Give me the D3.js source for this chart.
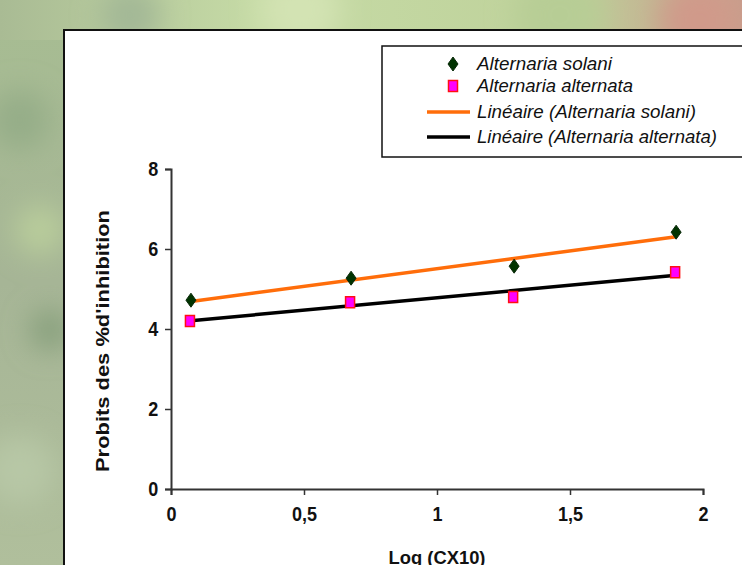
<!DOCTYPE html>
<html>
<head>
<meta charset="utf-8">
<script src="https://cdn.jsdelivr.net/npm/d3@7"></script>
<style>
  body { margin: 0; padding: 0; overflow: hidden; }
  svg { display: block; font-family: "Liberation Sans", Arial, sans-serif; }
</style>
</head>
<body>
<div id="chart"></div>
<script>
// donnees
var logDose = [0.075, 0.677, 1.29, 1.899];
var solani = [4.72, 5.27, 5.57, 6.42];
var alternata = [4.2, 4.67, 4.8, 5.42];
var xTicks = [0, 0.5, 1, 1.5, 2];
var yTicks = [0, 2, 4, 6, 8];
var legendLabels = ["Alternaria solani", "Alternaria alternata",
                    "Linéaire (Alternaria solani)", "Linéaire (Alternaria alternata)"];

var w = 742, h = 565;
var margin = {top: 169, left: 171, right: 39, bottom: 76};
var width = w - margin.left - margin.right,
    height = h - margin.top - margin.bottom;

var svg = d3.select("#chart").append("svg")
    .attr("width", w)
    .attr("height", h);

var defs = svg.append("defs");
var blur = defs.append("filter").attr("id", "blur")
    .attr("x", "-50%").attr("y", "-50%").attr("width", "200%").attr("height", "200%");
blur.append("feGaussianBlur").attr("stdDeviation", 14);

var topGrad = defs.append("linearGradient").attr("id", "topGrad");
topGrad.append("stop").attr("offset", "0%").attr("stop-color", "#a9bb94");
topGrad.append("stop").attr("offset", "35%").attr("stop-color", "#c6dba6");
topGrad.append("stop").attr("offset", "75%").attr("stop-color", "#bfd29b");
topGrad.append("stop").attr("offset", "100%").attr("stop-color", "#c79e8c");

var leftGrad = defs.append("linearGradient").attr("id", "leftGrad")
    .attr("x1", 0).attr("y1", 0).attr("x2", 0).attr("y2", 1);
leftGrad.append("stop").attr("offset", "0%").attr("stop-color", "#a7bd92");
leftGrad.append("stop").attr("offset", "50%").attr("stop-color", "#a6b596");
leftGrad.append("stop").attr("offset", "100%").attr("stop-color", "#b0bf9c");

// fond photo flou
svg.append("rect").attr("width", w).attr("height", h).attr("fill", "url(#leftGrad)");
svg.append("rect").attr("width", w).attr("height", 40).attr("fill", "url(#topGrad)");
var blobs = svg.append("g").attr("filter", "url(#blur)");
[[20, 120, 30, "#95ad88"], [50, 330, 20, "#869f7b"], [20, 470, 35, "#b7c7a6"],
 [300, 10, 40, "#d3e3b3"], [560, 15, 45, "#b7cd95"], [700, 20, 40, "#d09a8a"],
 [130, 15, 30, "#a3b896"], [40, 230, 25, "#b9cd9b"]].forEach(function(b) {
    blobs.append("circle").attr("cx", b[0]).attr("cy", b[1]).attr("r", b[2]).attr("fill", b[3]);
});

// panneau blanc
svg.append("rect")
    .attr("x", 64).attr("y", 30)
    .attr("width", 700).attr("height", 560)
    .attr("fill", "white")
    .attr("stroke", "#111").attr("stroke-width", 2);

var g = svg.append("g").attr("transform", "translate(" + margin.left + "," + margin.top + ")");

var x = d3.scaleLinear().domain([0, 2]).range([0, 532]);
var y = d3.scaleLinear().domain([0, 8]).range([height, height - 320]);

var xAxis = d3.axisBottom(x).tickValues(xTicks).tickSize(6).tickPadding(12)
    .tickFormat(function(d) { return String(d).replace(".", ","); });
var yAxis = d3.axisLeft(y).tickValues(yTicks).tickSize(6).tickPadding(7);

var ax = g.append("g").attr("transform", "translate(0," + y(0) + ")").call(xAxis);
var ay = g.append("g").call(yAxis);
[ax, ay].forEach(function(a) {
    a.select(".domain").attr("stroke", "#333").attr("stroke-width", 2);
    a.selectAll(".tick line").attr("stroke", "#333").attr("stroke-width", 1.5);
    a.selectAll(".tick text")
        .attr("fill", "#111")
        .style("font-size", "20px")
        .style("font-weight", "bold")
        .style("font-family", "'Liberation Sans', Arial, sans-serif");
});
// police un peu etroite comme dans l'original
ax.selectAll(".tick text").attr("transform", "scale(0.9,1)");
ay.selectAll(".tick text").attr("transform", "translate(-1,0) scale(0.9,1)");

// titres des axes
g.append("text")
    .attr("transform", "translate(-62," + y(3.7) + ") rotate(-90)")
    .attr("text-anchor", "middle")
    .attr("textLength", 262)
    .attr("lengthAdjust", "spacingAndGlyphs")
    .style("font-size", "18px")
    .style("font-weight", "bold")
    .attr("fill", "#111")
    .text("Probits des %d'inhibition");

g.append("text")
    .attr("x", x(1))
    .attr("y", y(0) + 75)
    .attr("text-anchor", "middle")
    .attr("textLength", 97)
    .attr("lengthAdjust", "spacingAndGlyphs")
    .style("font-size", "18px")
    .style("font-weight", "bold")
    .attr("fill", "#111")
    .text("Log (CX10)");

// droites de regression
function fit(xs, ys) {
    var mx = d3.mean(xs), my = d3.mean(ys);
    var sxy = d3.sum(xs, function(d, i) { return (d - mx) * (ys[i] - my); });
    var sxx = d3.sum(xs, function(d) { return (d - mx) * (d - mx); });
    var b = sxy / sxx;
    return function(v) { return my + b * (v - mx); };
}
var series = [
    {vals: solani, color: "#ff6d0a"},
    {vals: alternata, color: "#000000"}
];
var line = d3.line().x(function(d) { return x(d[0]); }).y(function(d) { return y(d[1]); });
series.forEach(function(s) {
    var f = fit(logDose, s.vals);
    var ends = d3.extent(logDose);
    g.append("path")
        .attr("d", line(ends.map(function(v) { return [v, f(v)]; })))
        .attr("stroke", s.color)
        .attr("stroke-width", 3.5)
        .attr("fill", "none");
});

// points
function diamond(sel) {
    sel.attr("d", "M0,-7L5,0L0,7L-5,0Z")
        .attr("fill", "#003300")
        .attr("stroke", "#0a2a0a").attr("stroke-width", 1);
}
function square(sel) {
    sel.attr("d", "M-4.5,-5.5H4.5V5.5H-4.5Z")
        .attr("fill", "#ff00ff")
        .attr("stroke", "#ff1010").attr("stroke-width", 1.5);
}
g.selectAll(".sol").data(solani).enter().append("path")
    .attr("transform", function(d, i) { return "translate(" + x(logDose[i]) + "," + y(d) + ")"; })
    .call(diamond);
g.selectAll(".alt").data(alternata).enter().append("path")
    .attr("transform", function(d, i) { return "translate(" + (x(logDose[i]) - 1) + "," + y(d) + ")"; })
    .call(square);

// legende
var leg = svg.append("g").attr("transform", "translate(382,46)");
leg.append("rect")
    .attr("width", 380).attr("height", 111)
    .attr("fill", "white")
    .attr("stroke", "#111").attr("stroke-width", 1.5);
var rowsY = [18, 40, 66, 91];
var legLen = [135, 156, 219, 240];
legendLabels.forEach(function(t, i) {
    var row = leg.append("g").attr("transform", "translate(0," + rowsY[i] + ")");
    if (i === 0) row.append("path").attr("transform", "translate(71,0)").call(diamond);
    else if (i === 1) row.append("path").attr("transform", "translate(71,0)").call(square);
    else row.append("line")
        .attr("x1", 45).attr("x2", 88)
        .attr("stroke", i === 2 ? "#ff6d0a" : "#000")
        .attr("stroke-width", 3.5);
    row.append("text")
        .attr("x", 95).attr("dy", "0.35em")
        .attr("textLength", legLen[i])
        .attr("lengthAdjust", "spacingAndGlyphs")
        .style("font-size", "18px")
        .style("font-style", "italic")
        .attr("fill", "#111")
        .text(t);
});
</script>
</body>
</html>
